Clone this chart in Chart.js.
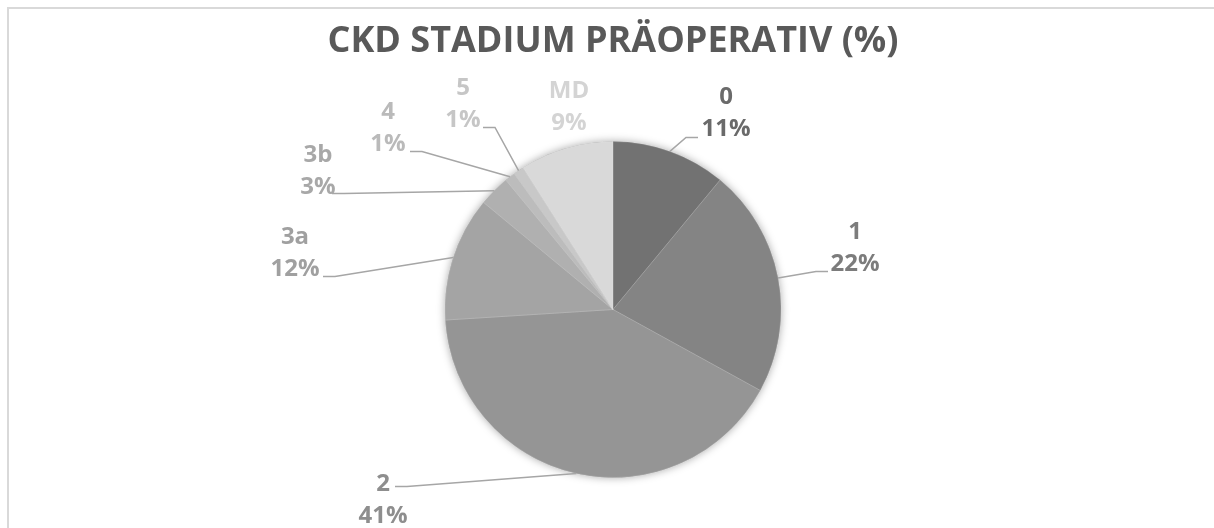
<!DOCTYPE html>
<html>
<head>
<meta charset="utf-8">
<title>CKD Stadium präoperativ</title>
<script src="https://cdn.jsdelivr.net/npm/chart.js@4.4.0/dist/chart.umd.min.js"></script>
<style>
  html, body { margin: 0; padding: 0; background: #fff; }
  #wrap { width: 1214px; height: 528px; }
</style>
</head>
<body>
<div id="wrap"><canvas id="graficoCkd" width="1214" height="528"></canvas></div>
<script>
const stadien = ["0", "1", "2", "3a", "3b", "4", "5", "MD"];
const anteile = [11, 22, 41, 12, 3, 1, 1, 9];

const farben = ["#727272", "#848484", "#959595", "#a4a4a4", "#b0b0b0", "#bcbcbc", "#c8c8c8", "#d9d9d9"];
const textFarben = ["#6a6a6a", "#7c7c7c", "#8e8e8e", "#a0a0a0", "#a8a8a8", "#bababa", "#c6c6c6", "#d4d4d4"];

// Mitte des Beschriftungsblocks und Ende der Führungslinie, relativ zur Kreismitte (px)
const labelPos = [[113, -196], [242, -61], [-230, 191], [-318, -56], [-295, -138], [-225, -181], [-150, -205], [-44, -202]];
const linienEnde = [[85, -172], [215, -38], [-218, 177], [-290, -33], [-281, -116], [-203, -158], [-130, -182], null];

const rahmen = {
  id: "rahmen",
  beforeDraw(chart) {
    const ctx = chart.ctx;
    ctx.save();
    ctx.strokeStyle = "#d9d9d9";
    ctx.lineWidth = 2;
    ctx.beginPath();
    ctx.moveTo(8, chart.height + 5);
    ctx.lineTo(8, 8);
    ctx.lineTo(chart.width + 5, 8);
    ctx.stroke();
    ctx.restore();
  }
};

// weicher Schatten unter dem ganzen Kreis
const schatten = {
  id: "schatten",
  beforeDatasetsDraw(chart) {
    const arc = chart.getDatasetMeta(0).data[0];
    if (!arc) return;
    const ctx = chart.ctx;
    ctx.save();
    ctx.shadowColor = "rgba(0,0,0,0.35)";
    ctx.shadowBlur = 9;
    ctx.fillStyle = "#999";
    ctx.beginPath();
    ctx.arc(arc.x, arc.y, arc.outerRadius, 0, Math.PI * 2);
    ctx.fill();
    ctx.restore();
  }
};

const beschriftung = {
  id: "beschriftung",
  afterDatasetsDraw(chart) {
    const meta = chart.getDatasetMeta(0);
    const ctx = chart.ctx;
    ctx.save();
    meta.data.forEach((arc, i) => {
      const mitte = (arc.startAngle + arc.endAngle) / 2;
      const ax = arc.x + Math.cos(mitte) * arc.outerRadius;
      const ay = arc.y + Math.sin(mitte) * arc.outerRadius;
      const ende = linienEnde[i];
      if (ende) {
        const ex = arc.x + ende[0];
        const ey = arc.y + ende[1];
        const knick = ex + (ende[0] > 0 ? -12 : 12);
        ctx.strokeStyle = "#a6a6a6";
        ctx.lineWidth = 1.5;
        ctx.beginPath();
        ctx.moveTo(ax, ay);
        ctx.lineTo(knick, ey);
        ctx.lineTo(ex, ey);
        ctx.stroke();
      }
      const lx = arc.x + labelPos[i][0];
      const ly = arc.y + labelPos[i][1];
      ctx.fillStyle = textFarben[i];
      ctx.font = "bold 24px 'Open Sans'";
      ctx.textAlign = "center";
      ctx.textBaseline = "middle";
      ctx.fillText(stadien[i], lx, ly - 16);
      ctx.fillText(anteile[i] + "%", lx, ly + 16);
    });
    ctx.restore();
  }
};

new Chart(document.getElementById("graficoCkd"), {
  type: "pie",
  data: {
    labels: stadien,
    datasets: [{
      data: anteile,
      backgroundColor: farben,
      borderColor: "rgba(255,255,255,0.15)",
      borderWidth: 1
    }]
  },
  options: {
    responsive: false,
    animation: false,
    layout: { padding: { top: 8, left: 100, right: 88, bottom: 50 } },
    plugins: {
      legend: { display: false },
      tooltip: { enabled: false },
      title: {
        display: true,
        text: "CKD STADIUM PRÄOPERATIV (%)",
        color: "#595959",
        font: { family: "'Open Sans'", size: 36, weight: "bold", lineHeight: 1.2 },
        padding: { top: 12, bottom: 77.8 }
      }
    }
  },
  plugins: [rahmen, schatten, beschriftung]
});
</script>
</body>
</html>
